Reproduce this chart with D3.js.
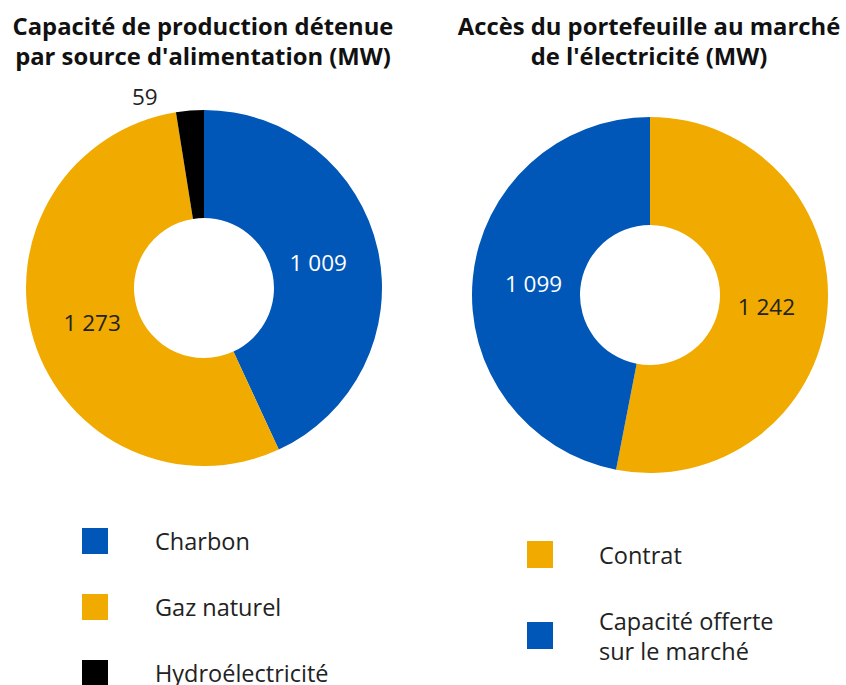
<!DOCTYPE html>
<html><head><meta charset="utf-8">
<script src="https://cdn.jsdelivr.net/npm/d3@7"></script>
<style>body{margin:0;background:#fff;} text{font-family:"Open Sans",sans-serif;}</style>
</head><body>
<svg id="c" width="846" height="685"></svg>
<script>
const leftCategories = ["Charbon", "Gaz naturel", "Hydroélectricité"];
const leftValues = [1009, 1273, 59];
const leftColors = ["#0057B8", "#F0AA00", "#000000"];
const leftTitle = ["Capacité de production détenue", "par source d'alimentation (MW)"];

const rightCategories = ["Contrat", "Capacité offerte sur le marché"];
const rightLegendLines = [["Contrat"], ["Capacité offerte", "sur le marché"]];
const rightValues = [1242, 1099];
const rightColors = ["#F0AA00", "#0057B8"];
const rightTitle = ["Accès du portefeuille au marché", "de l'électricité (MW)"];

const fmt = v => d3.format(",")(v).replace(/,/g, " ");
const svg = d3.select("#c");
const R = 178, r0 = 70, labelR = 117;

function donut(cx, cy, values, colors, title, titleX, outsideSmall) {
  const g = svg.append("g").attr("transform", `translate(${cx},${cy})`);
  const pie = d3.pie().sort(null).value(d => d)(values);
  const arc = d3.arc().innerRadius(r0).outerRadius(R);
  g.selectAll("path").data(pie).join("path")
    .attr("d", arc).attr("fill", (d, i) => colors[i]);
  const lab = d3.arc().innerRadius(labelR).outerRadius(labelR);
  pie.forEach((d, i) => {
    const frac = (d.endAngle - d.startAngle) / (2 * Math.PI);
    if (frac < 0.05 && outsideSmall) {
      const a = (d.startAngle + d.endAngle) / 2;
      const rr = 192;
      g.append("text").attr("x", rr * Math.sin(a) - 44).attr("y", -rr * Math.cos(a))
        .attr("text-anchor", "middle").attr("dominant-baseline", "central")
        .attr("font-size", 22.5).attr("fill", "#222").text(fmt(d.data));
    } else {
      const [x, y] = lab.centroid(d);
      g.append("text").attr("x", x).attr("y", y)
        .attr("text-anchor", "middle").attr("dominant-baseline", "central")
        .attr("font-size", 22.5).attr("fill", colors[i] === "#F0AA00" ? "#222" : "#fff")
        .text(fmt(d.data));
    }
  });
  const t = svg.append("text").attr("x", titleX).attr("text-anchor", "middle")
    .attr("font-size", 23.8).attr("font-weight", "bold").attr("fill", "#111");
  title.forEach((l, i) => t.append("tspan").attr("x", titleX).attr("y", 35 + i * 30).text(l));
}

donut(204, 288, leftValues, leftColors, leftTitle, 203, true);
donut(650, 295, rightValues, rightColors, rightTitle, 649, false);

// left legend
leftCategories.forEach((c, i) => {
  const y = 528 + i * 66;
  svg.append("rect").attr("x", 82).attr("y", y).attr("width", 26).attr("height", 26).attr("fill", leftColors[i]);
  svg.append("text").attr("x", 155).attr("y", y + 13).attr("dominant-baseline", "central")
    .attr("font-size", 23.5).attr("fill", "#222").text(c);
});
// right legend
const ry = [541, 622];
rightLegendLines.forEach((lines, i) => {
  const y = ry[i];
  svg.append("rect").attr("x", 527).attr("y", y).attr("width", 26).attr("height", 27).attr("fill", rightColors[i]);
  const n = lines.length;
  lines.forEach((l, j) => {
    svg.append("text").attr("x", 599).attr("y", y + 13.5 + (j - (n - 1) / 2) * 30)
      .attr("dominant-baseline", "central").attr("font-size", 23.5).attr("fill", "#222").text(l);
  });
});
</script>
</body></html>
